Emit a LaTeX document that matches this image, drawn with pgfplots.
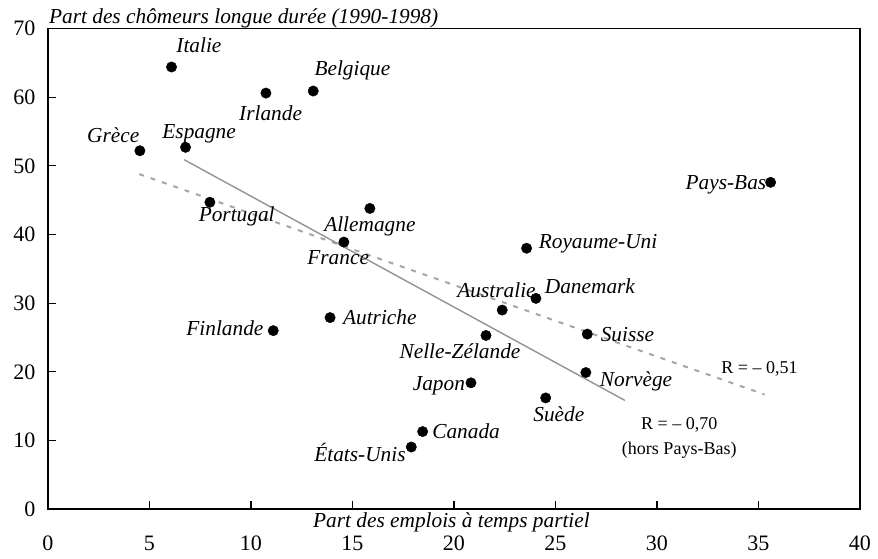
\documentclass[border=0pt]{standalone}
\usepackage{fontspec}
\setmainfont{Liberation Serif}
\usepackage{pgfplots}
\pgfplotsset{compat=1.18}

% part-time share (x) vs long-term unemployment share (y)
\pgfplotstableread{
x     y
6.09  64.4
10.74 60.6
13.07 60.9
4.53  52.2
6.78  52.7
7.98  44.7
15.86 43.8
14.58 38.9
35.6  47.6
23.58 38.0
24.04 30.7
22.38 29.0
21.58 25.3
26.57 25.5
26.5  19.9
20.84 18.4
24.52 16.2
18.46 11.3
17.9  9.05
11.1  26.0
13.9  27.9
}\pays

\begin{document}
\begin{tikzpicture}[
    lab/.style={font=\itshape\fontsize{21.3}{25}\selectfont, inner sep=0pt},
    rlab/.style={font=\fontsize{18}{22}\selectfont, inner sep=0pt}]
\begin{axis}[
    scale only axis,
    width=811pt, height=480pt,
    xmin=0, xmax=40, ymin=0, ymax=70,
    xtick={0,5,...,40}, ytick={0,10,...,70},
    axis line style={line width=1.8pt},
    tick style={line width=1.2pt, black},
    major tick length=8pt,
    tick align=inside,
    tick pos=left,
    clip=false,
    ticklabel style={font=\fontsize{22}{24}\selectfont},
    xticklabel style={yshift=-23pt},
    yticklabel style={xshift=-9pt},
    /pgf/number format/assume math mode=true,
    xlabel={Part des emplois à temps partiel},
    xlabel style={at={(axis description cs:0.497,0)}, anchor=north,
      font=\itshape\fontsize{21.3}{25}\selectfont},
    ylabel={Part des chômeurs longue durée (1990-1998)},
    ylabel style={rotate=-90, at={(axis description cs:0,1)},
      anchor=south west, inner sep=0pt, xshift=1pt,
      font=\itshape\fontsize{21.3}{25}\selectfont},
]
% regression lines
\addplot[gray!70, line width=2pt, dash pattern=on 5pt off 7pt]
  coordinates {(4.5,48.8) (35.3,16.7)};
\addplot[gray!85, line width=1.4pt]
  coordinates {(6.71,50.9) (28.42,15.84)};
% countries
\addplot[only marks, mark=*, mark size=5.2pt, black] table[x=x,y=y]{\pays};

\node[lab] at (axis cs:7.44,67.6) {Italie};
\node[lab] at (axis cs:10.97,57.6) {Irlande};
\node[lab] at (axis cs:15.0,63.9) {Belgique};
\node[lab] at (axis cs:3.22,54.5) {Grèce};
\node[lab] at (axis cs:7.45,54.6) {Espagne};
\node[lab] at (axis cs:9.3,42.7) {Portugal};
\node[lab] at (axis cs:15.86,41.2) {Allemagne};
\node[lab] at (axis cs:14.3,36.7) {France};
\node[lab] at (axis cs:33.4,47.3) {Pays-Bas};
\node[lab] at (axis cs:27.1,38.6) {Royaume-Uni};
\node[lab] at (axis cs:26.7,32.4) {Danemark};
\node[lab] at (axis cs:22.1,31.9) {Australie};
\node[lab] at (axis cs:28.55,25.5) {Suisse};
\node[lab] at (axis cs:20.3,23.0) {Nelle-Zélande};
\node[lab] at (axis cs:28.97,18.6) {Norvège};
\node[lab] at (axis cs:19.26,18.0) {Japon};
\node[lab] at (axis cs:25.17,13.9) {Suède};
\node[lab] at (axis cs:20.6,11.4) {Canada};
\node[lab] at (axis cs:8.72,26.4) {Finlande};
\node[lab] at (axis cs:16.35,27.9) {Autriche};
\node[lab] at (axis cs:15.37,8.3) {États-Unis};

\node[rlab] at (axis cs:35.05,20.5) {R = – 0,51};
\node[rlab] at (axis cs:31.1,12.2) {R = – 0,70};
\node[rlab] at (axis cs:31.1,8.6) {(hors Pays-Bas)};

\path (axis cs:-2.36,-7.25) (axis cs:40.89,74.16);
\end{axis}
\end{tikzpicture}
\end{document}
